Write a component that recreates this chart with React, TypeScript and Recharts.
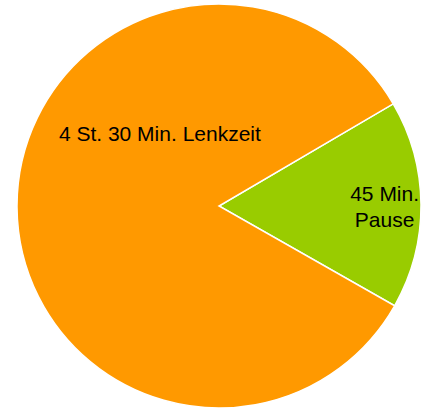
import { PieChart, Pie, Cell } from 'recharts'

// share of the 4h30 block (~60° / ~300°)
const names = ['45 Min.\nPause', '4 St. 30 Min. Lenkzeit']
const values = [1, 5]
const colors = ['#99cc00', '#ff9900']

const data = names.map((name, i) => ({ name, value: values[i] }))

// where each label sits: angle in degrees (ccw from 3 o'clock), distance as fraction of radius
const labelPlacement: Record<string, { angle: number; r: number }> = {
  '45 Min.\nPause': { angle: 0, r: 0.82 },
  '4 St. 30 Min. Lenkzeit': { angle: 129, r: 0.465 },
}

const RAD = Math.PI / 180

function renderLabel(props: any) {
  const { cx, cy, outerRadius, name } = props
  const p = labelPlacement[name]
  const x = cx + Math.cos(p.angle * RAD) * outerRadius * p.r
  const y = cy - Math.sin(p.angle * RAD) * outerRadius * p.r
  const lines = String(name).split('\n')
  const lh = 26
  const y0 = y - ((lines.length - 1) * lh) / 2
  return (
    <text
      x={x}
      y={y0}
      textAnchor="middle"
      dominantBaseline="central"
      fill="#000"
      fontSize={21}
      fontFamily="'Liberation Sans', Arial, sans-serif"
    >
      {lines.map((l, i) => (
        <tspan key={i} x={x} dy={i === 0 ? 0 : lh}>
          {l}
        </tspan>
      ))}
    </text>
  )
}

export default function App() {
  return (
    <div style={{ position: 'absolute', left: 0, top: 0, width: 423, height: 408, background: '#fff' }}>
      <PieChart width={423} height={408} margin={{ top: 0, right: 0, bottom: 0, left: 0 }}>
        <Pie
          data={data}
          dataKey="value"
          nameKey="name"
          cx={219}
          cy={206}
          outerRadius={202}
          startAngle={-29.6}
          endAngle={330.4}
          stroke="#fff"
          strokeWidth={1.5}
          label={renderLabel}
          labelLine={false}
          isAnimationActive={false}
        >
          {data.map((d, i) => (
            <Cell key={d.name} fill={colors[i]} />
          ))}
        </Pie>
      </PieChart>
    </div>
  )
}
